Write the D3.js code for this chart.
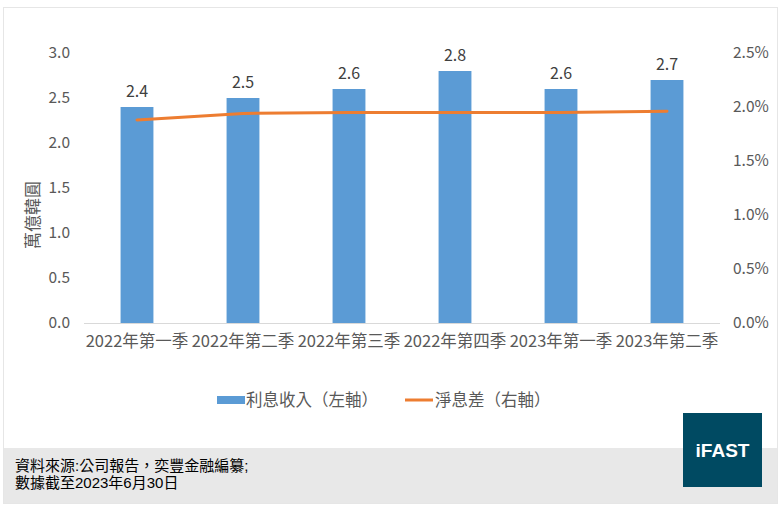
<!DOCTYPE html>
<html><head><meta charset="utf-8">
<script src="https://cdn.jsdelivr.net/npm/d3@7"></script>
<style>
body{margin:0;background:#fff;}
text{font-family:"Noto Sans CJK TC","Noto Sans",sans-serif;}
</style></head>
<body><svg id="c" width="782" height="510"></svg>
<script>
const categories = ["2022年第一季","2022年第二季","2022年第三季","2022年第四季","2023年第一季","2023年第二季"];
const interestIncome = [2.4, 2.5, 2.6, 2.8, 2.6, 2.7];
const netInterestMargin = [1.88, 1.94, 1.95, 1.95, 1.95, 1.96];
const leftTicks = [0, 0.5, 1.0, 1.5, 2.0, 2.5, 3.0];
const rightTicks = [0, 0.5, 1.0, 1.5, 2.0, 2.5];
const legendLabels = ["利息收入（左軸）","淨息差（右軸）"];
const yTitle = "萬億韓圓";
const sourceLines = ["資料來源:公司報告，奕豐金融編纂;","數據截至2023年6月30日"];

const svg = d3.select("#c");
svg.append("rect").attr("x",3.5).attr("y",7.5).attr("width",774).attr("height",496)
  .attr("fill","#fff").attr("stroke","#e6e6e6");
svg.append("rect").attr("x",4).attr("y",448).attr("width",773).attr("height",55).attr("fill","#e8e8e8");

const x = d3.scaleBand().domain(categories).range([84,720]).paddingInner(0.69).paddingOuter(0.345);
const yL = d3.scaleLinear().domain([0,3]).range([323,53]);
const yR = d3.scaleLinear().domain([0,2.5]).range([323,53]);

svg.append("line").attr("x1",84).attr("x2",720).attr("y1",323.5).attr("y2",323.5).attr("stroke","#d9d9d9");

const gL = svg.append("g").attr("transform","translate(78,0)")
  .call(d3.axisLeft(yL).tickValues(leftTicks).tickFormat(d3.format(".1f")).tickSize(0).tickPadding(8));
gL.select(".domain").remove();
gL.selectAll("text").attr("fill","#595959").style("font-size","15.5px").style("font-family","'Noto Sans CJK TC',sans-serif");

const gR = svg.append("g").attr("transform","translate(725,0)")
  .call(d3.axisRight(yR).tickValues(rightTicks).tickFormat(d=>d.toFixed(1)+"%").tickSize(0).tickPadding(8));
gR.select(".domain").remove();
gR.selectAll("text").attr("fill","#595959").style("font-size","15.5px").style("font-family","'Noto Sans CJK TC',sans-serif");

const gX = svg.append("g").attr("transform","translate(0,323)")
  .call(d3.axisBottom(x).tickSize(0).tickPadding(12));
gX.select(".domain").remove();
gX.selectAll("text").attr("fill","#595959").style("font-size","16.5px").style("font-family","'Noto Sans CJK TC',sans-serif");

svg.selectAll("rect.bar").data(interestIncome).enter().append("rect").attr("class","bar")
  .attr("x",(d,i)=>x(categories[i])).attr("width",x.bandwidth())
  .attr("y",d=>yL(d)).attr("height",d=>yL(0)-yL(d)).attr("fill","#5b9bd5");

svg.selectAll("text.lbl").data(interestIncome).enter().append("text").attr("class","lbl")
  .attr("x",(d,i)=>x(categories[i])+x.bandwidth()/2).attr("y",d=>yL(d)-10)
  .attr("text-anchor","middle").attr("fill","#404040").style("font-size","16px")
  .text(d=>d.toFixed(1));

const line = d3.line().x((d,i)=>x(categories[i])+x.bandwidth()/2).y(d=>yR(d));
svg.append("path").datum(netInterestMargin).attr("d",line).attr("fill","none")
  .attr("stroke","#ed7d31").attr("stroke-width",3).attr("stroke-linecap","round");

svg.append("text").attr("transform","translate(39,215) rotate(-90)").attr("text-anchor","middle")
  .attr("fill","#595959").style("font-size","17px").text(yTitle);

svg.append("rect").attr("x",217).attr("y",396).attr("width",28).attr("height",8).attr("fill","#5b9bd5");
svg.append("text").attr("x",246).attr("y",406).attr("fill","#595959").style("font-size","16.5px").text(legendLabels[0]);
svg.append("line").attr("x1",405).attr("x2",433).attr("y1",400).attr("y2",400).attr("stroke","#ed7d31").attr("stroke-width",3);
svg.append("text").attr("x",435).attr("y",406).attr("fill","#595959").style("font-size","16.5px").text(legendLabels[1]);

sourceLines.forEach((t,i)=>{
  svg.append("text").attr("x",15).attr("y",471+i*17).attr("fill","#000").style("font-size","15px")
    .style("font-family","'Liberation Sans','Noto Sans CJK TC',sans-serif").text(t);
});

svg.append("rect").attr("x",683).attr("y",413).attr("width",79).attr("height",74).attr("fill","#004a62");
svg.append("text").attr("x",722.5).attr("y",457).attr("text-anchor","middle").attr("fill","#fff")
  .style("font-size","19px").style("font-weight","bold").style("font-family","'Liberation Sans',Arial,sans-serif").text("iFAST");
</script></body></html>
